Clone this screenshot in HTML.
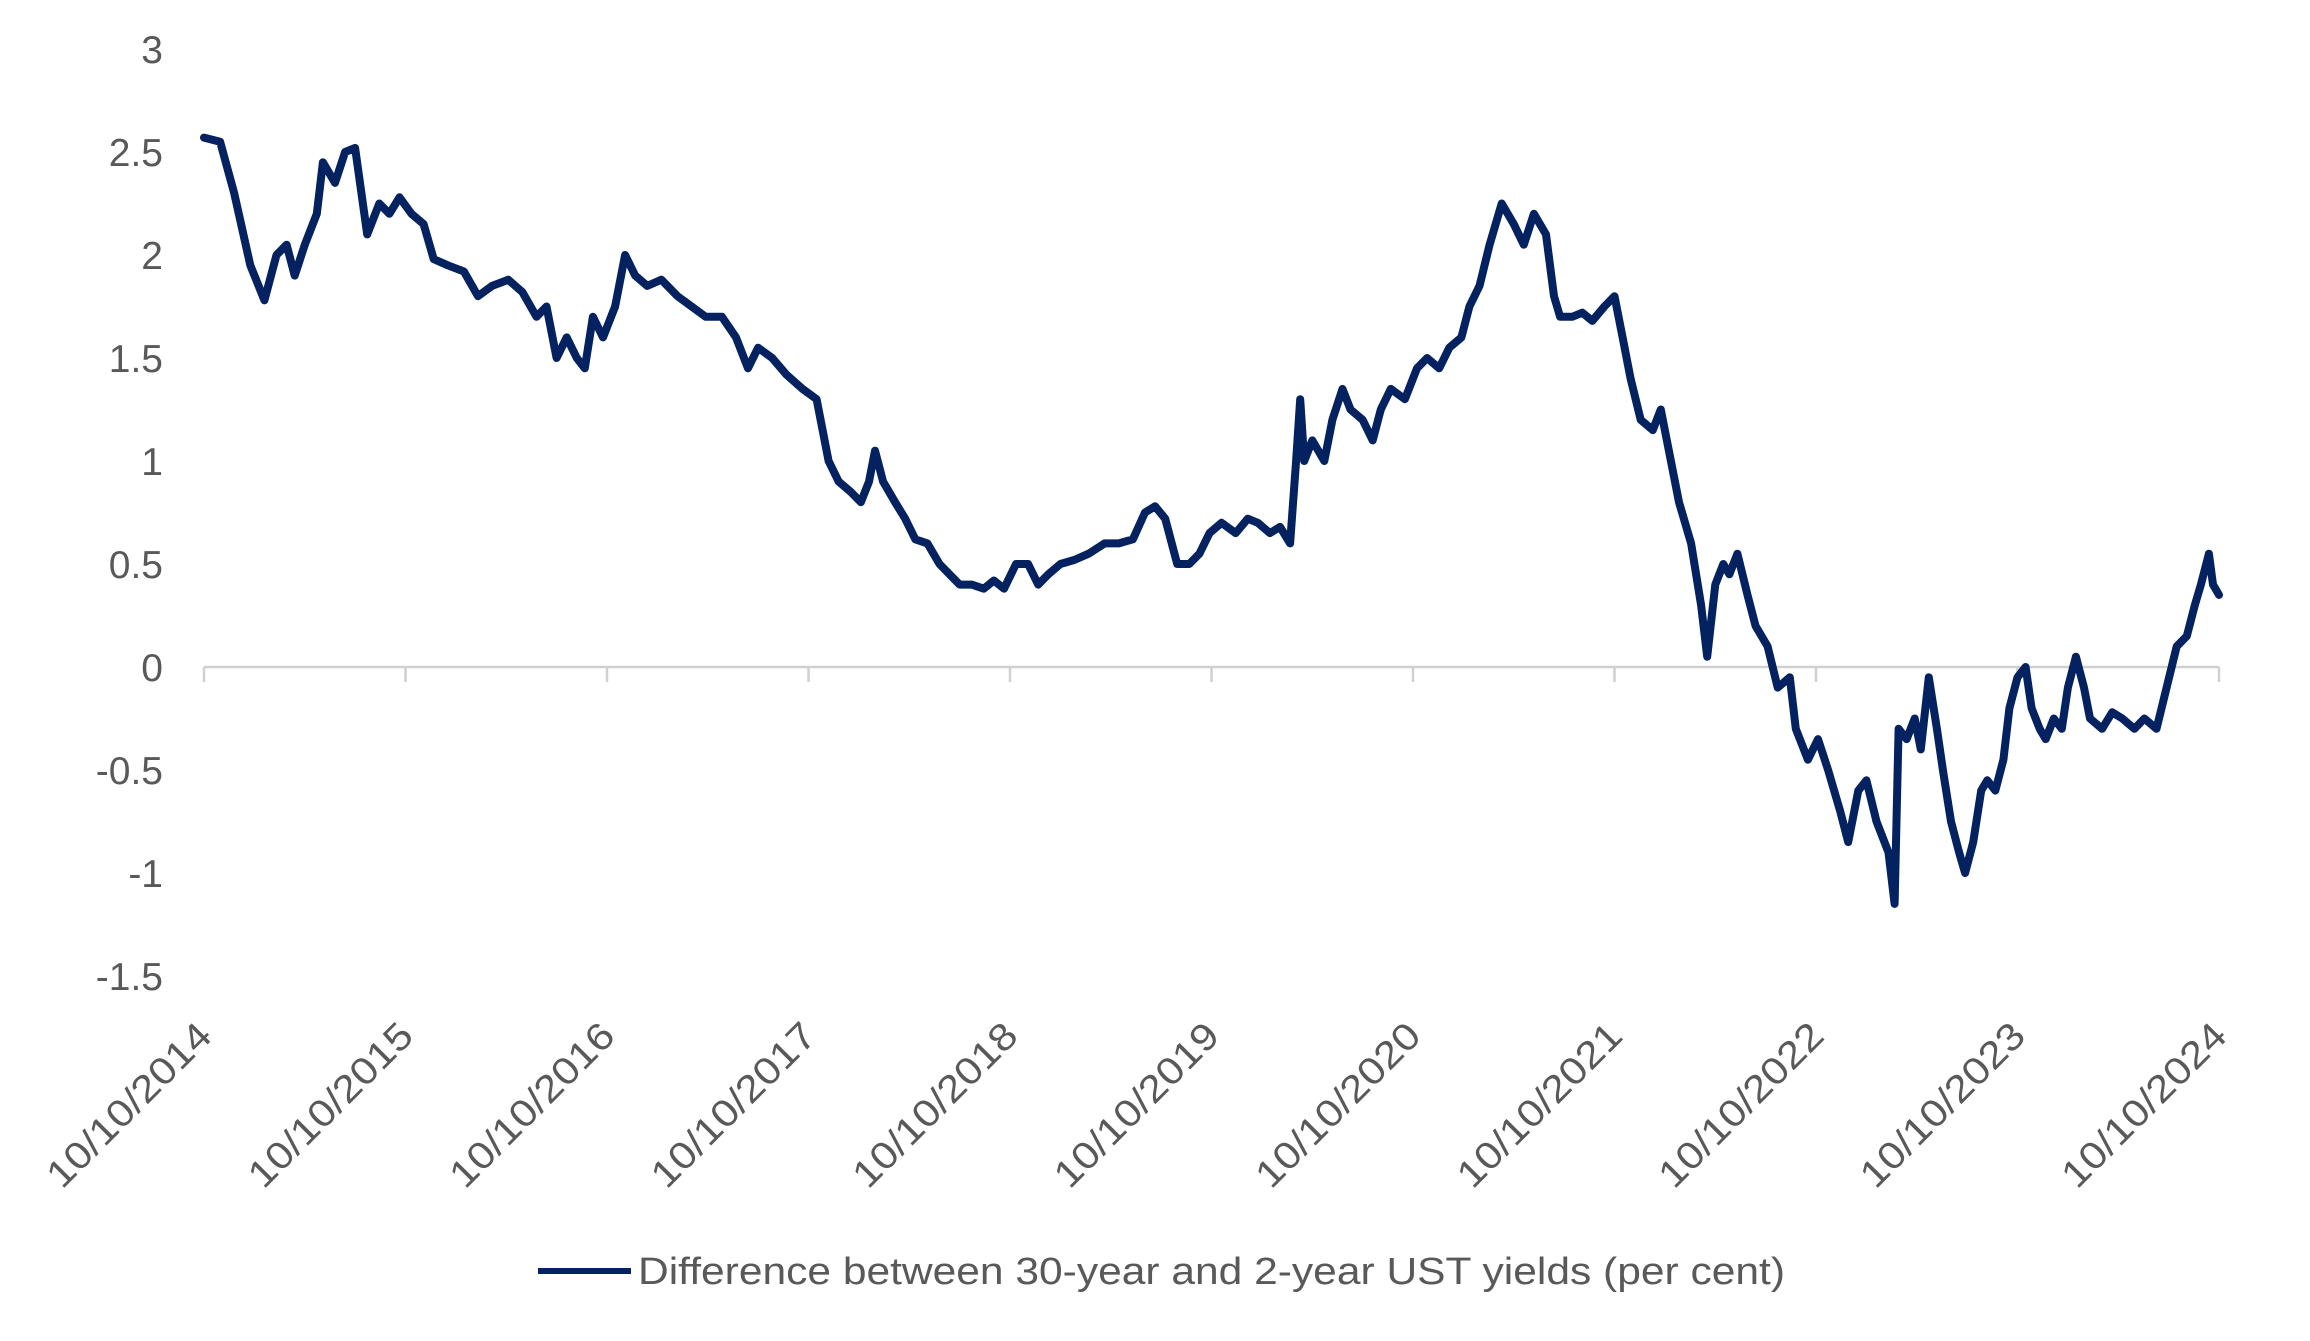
<!DOCTYPE html>
<html><head><meta charset="utf-8"><style>
html,body{margin:0;padding:0;background:#fff;}
svg{display:block;font-family:"Liberation Sans",sans-serif;}
</style></head><body>
<svg id="chart" width="2310" height="1341" viewBox="0 0 2310 1341" xmlns="http://www.w3.org/2000/svg">
<g id="yaxis"></g>
<g id="xaxis"></g>
<g id="series"></g>
<g>
<line x1="538" y1="1271" x2="631" y2="1271" stroke="#03225f" stroke-width="6"/>
<text x="638" y="1284" font-size="38" fill="#595959" textLength="1147" lengthAdjust="spacingAndGlyphs">Difference between 30-year and 2-year UST yields (per cent)</text>
</g>
</svg>
<script>
const yTicks=[3,2.5,2,1.5,1,0.5,0,-0.5,-1,-1.5];
const yTickLabels=["3","2.5","2","1.5","1","0.5","0","-0.5","-1","-1.5"];
const xTickLabels=["10/10/2014","10/10/2015","10/10/2016","10/10/2017","10/10/2018","10/10/2019","10/10/2020","10/10/2021","10/10/2022","10/10/2023","10/10/2024"];
const tYears=[0,.08,.15,.23,.30,.36,.41,.45,.50,.56,.59,.65,.70,.75,.81,.87,.92,.97,1.03,1.09,1.14,1.21,1.29,1.36,1.43,1.51,1.58,1.65,1.70,1.75,1.80,1.85,1.89,1.93,1.98,2.04,2.09,2.14,2.20,2.27,2.35,2.42,2.49,2.57,2.64,2.70,2.75,2.82,2.89,2.97,3.04,3.10,3.15,3.21,3.26,3.30,3.33,3.37,3.43,3.48,3.53,3.59,3.65,3.70,3.75,3.81,3.87,3.92,3.97,4.03,4.09,4.14,4.19,4.25,4.32,4.39,4.47,4.54,4.61,4.67,4.72,4.77,4.83,4.89,4.94,4.99,5.05,5.12,5.18,5.23,5.29,5.34,5.39,5.42,5.44,5.46,5.50,5.56,5.60,5.65,5.69,5.75,5.80,5.84,5.89,5.96,6.02,6.07,6.13,6.18,6.24,6.28,6.33,6.38,6.44,6.50,6.55,6.60,6.66,6.70,6.73,6.79,6.84,6.89,6.95,7.00,7.04,7.08,7.13,7.19,7.23,7.28,7.32,7.38,7.43,7.46,7.50,7.54,7.57,7.61,7.66,7.70,7.76,7.81,7.87,7.90,7.96,8.01,8.06,8.12,8.16,8.21,8.25,8.30,8.36,8.39,8.41,8.45,8.49,8.52,8.56,8.60,8.63,8.67,8.71,8.74,8.78,8.82,8.85,8.89,8.93,8.96,9.00,9.04,9.07,9.11,9.14,9.18,9.22,9.25,9.29,9.33,9.36,9.42,9.47,9.52,9.58,9.63,9.69,9.74,9.79,9.84,9.88,9.91,9.95,9.97,10];
const spread=[2.57,2.55,2.3,1.95,1.78,2.0,2.05,1.9,2.05,2.2,2.45,2.35,2.5,2.52,2.1,2.25,2.2,2.28,2.2,2.15,1.98,1.95,1.92,1.8,1.85,1.88,1.82,1.7,1.75,1.5,1.6,1.5,1.45,1.7,1.6,1.75,2.0,1.9,1.85,1.88,1.8,1.75,1.7,1.7,1.6,1.45,1.55,1.5,1.42,1.35,1.3,1.0,0.9,0.85,0.8,0.9,1.05,0.9,0.8,0.72,0.62,0.6,0.5,0.45,0.4,0.4,0.38,0.42,0.38,0.5,0.5,0.4,0.45,0.5,0.52,0.55,0.6,0.6,0.62,0.75,0.78,0.72,0.5,0.5,0.55,0.65,0.7,0.65,0.72,0.7,0.65,0.68,0.6,1.0,1.3,1.0,1.1,1.0,1.2,1.35,1.25,1.2,1.1,1.25,1.35,1.3,1.45,1.5,1.45,1.55,1.6,1.75,1.85,2.05,2.25,2.15,2.05,2.2,2.1,1.8,1.7,1.7,1.72,1.68,1.75,1.8,1.6,1.4,1.2,1.15,1.25,1.0,0.8,0.6,0.3,0.05,0.4,0.5,0.45,0.55,0.35,0.2,0.1,-0.1,-0.05,-0.3,-0.45,-0.35,-0.5,-0.7,-0.85,-0.6,-0.55,-0.75,-0.9,-1.15,-0.3,-0.35,-0.25,-0.4,-0.05,-0.3,-0.5,-0.75,-0.9,-1.0,-0.85,-0.6,-0.55,-0.6,-0.45,-0.2,-0.05,0.0,-0.2,-0.3,-0.35,-0.25,-0.3,-0.1,0.05,-0.1,-0.25,-0.3,-0.22,-0.25,-0.3,-0.25,-0.3,-0.1,0.1,0.15,0.3,0.4,0.55,0.4,0.35];
const NS="http://www.w3.org/2000/svg";
const x0=204,x1=2219,y0v=667,yPer=206;
function xs(t){return x0+(x1-x0)*t/10;}
function ys(v){return y0v-v*yPer;}
function mk(tag,attrs,parent){const e=document.createElementNS(NS,tag);for(const k in attrs)e.setAttribute(k,attrs[k]);parent.appendChild(e);return e;}
const ya=document.getElementById('yaxis');
yTicks.forEach((v,i)=>{
  const t=mk('text',{x:163,y:ys(v)+14,'text-anchor':'end','font-size':39,fill:'#595959'},ya);
  
  
  t.textContent=yTickLabels[i];
});
const xa=document.getElementById('xaxis');
const ax=mk('line',{x1:x0,y1:ys(0),x2:x1,y2:ys(0),stroke:'#d0d0d0','stroke-width':2.5},xa);


xTickLabels.forEach((lab,i)=>{
  const tx=xs(i);
  const tk=mk('line',{x1:tx,y1:ys(0),x2:tx,y2:ys(0)+15,stroke:'#d0d0d0','stroke-width':2.5},xa);
  
  
  const t=mk('text',{transform:`translate(${tx+10},1038) rotate(-45)`,'text-anchor':'end','font-size':38,fill:'#595959',textLength:215,lengthAdjust:'spacingAndGlyphs'},xa);
  
  
  t.textContent=lab;
});
const sg=document.getElementById('series');
let d='';
tYears.forEach((t,i)=>{d+=(i?'L':'M')+xs(t).toFixed(1)+' '+ys(spread[i]).toFixed(1);});
const p=mk('path',{d:d,fill:'none',stroke:'#03225f','stroke-width':8,'stroke-linejoin':'round','stroke-linecap':'round'},sg);


</script>
</body></html>
